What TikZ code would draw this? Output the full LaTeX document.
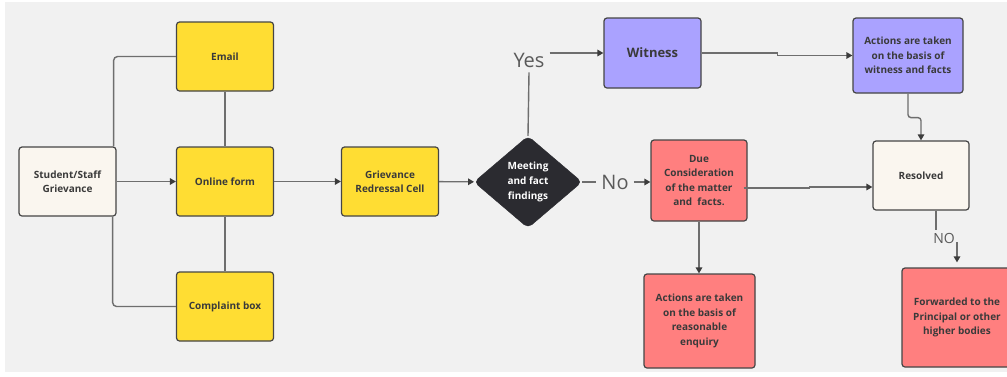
\documentclass[tikz,border=0pt]{standalone}
\usepackage{fontspec}
\setmainfont{Open Sans}
\usetikzlibrary{shapes.geometric,arrows.meta}
\definecolor{bggray}{HTML}{F1F1F1}
\definecolor{boxline}{HTML}{454545}
\definecolor{wirecol}{HTML}{6E6E6E}
\definecolor{tipcol}{HTML}{3C3C3C}
\definecolor{txtcol}{HTML}{3A3A3A}
\definecolor{yel}{HTML}{FFDD33}
\definecolor{lav}{HTML}{AAA2FF}
\definecolor{rose}{HTML}{FF7F7F}
\definecolor{cream}{HTML}{FAF6EF}
\definecolor{ink}{HTML}{2B2B30}
\definecolor{lblcol}{HTML}{5A5A5A}
\begin{document}
\begin{tikzpicture}[x=1pt,y=-1pt,
	box/.style={rectangle,rounded corners=3pt,draw=boxline,line width=1.2pt,text=txtcol,
		font=\bfseries\fontsize{10}{14.5}\selectfont,align=center,inner sep=2pt},
	decide/.style={diamond,rounded corners=5pt,draw=ink,fill=ink,text=white,inner sep=0pt,
		font=\bfseries\fontsize{10}{15}\selectfont,align=center},
	wire/.style={draw=wirecol,line width=1.4pt},
	arr/.style={wire,-{Triangle[length=6pt,width=6.5pt,color=tipcol]}},
	lbl/.style={text=lblcol,inner sep=5pt}]
			\useasboundingbox (0,0) rectangle (1007,376);
			\fill[white] (0,0) rectangle (1007,376);
			\fill[bggray] (5,2) rectangle (1007,372);
			
			\begin{scope}[every node/.style={box,minimum width=97pt,minimum height=69pt}]
			\node (S) at (67.5,181.5) [fill=cream] {Student/Staff\\Grievance};
			\node (E) at (225,56.5) [fill=yel] {Email};
			\node (O) at (225,181.5) [fill=yel] {Online form};
			\node (C) at (225,306.5) [fill=yel] {Complaint box};
			\node (G) at (390,181.5) [fill=yel] {Grievance\\Redressal Cell};
			\node (W) at (652.5,53) [fill=lav,minimum height=70pt,font=\bfseries\fontsize{13}{16}\selectfont] {Witness};
			\node (AW) at (908,55.5) [fill=lav,minimum width=110pt,minimum height=75pt] {Actions are taken\\on the basis of\\witness and facts};
			\node (D) at (699,180.5) [fill=rose,minimum width=96pt,minimum height=81pt] {Due\\Consideration\\of the matter\\and \ facts.};
			\node (R) at (921,175.5) [fill=cream,minimum width=96pt] {Resolved};
			\node (AR) at (699.5,321) [fill=rose,minimum width=111pt,minimum height=94pt] {Actions are taken\\on the basis of\\reasonable\\enquiry};
			\node (F) at (957,317.5) [fill=rose,minimum width=110pt,minimum height=99pt] {Forwarded to the\\Principal or other\\higher bodies};
			\end{scope}
			\node (M) at (528,182) [decide,minimum width=108pt,minimum height=92pt] {Meeting\\and fact\\findings};
			
			\node (Y) at (529,60) [lbl,font=\fontsize{20}{24}\selectfont] {Yes};
			\node (N) at (615,182) [lbl,font=\fontsize{20}{24}\selectfont] {No};
			\node (NO) at (944,238) [lbl,inner sep=3pt,font=\fontsize{14}{17}\selectfont] {NO};
			
			\path (S) edge[arr] (O);
			\path (E) edge[wire] (O);
			\path (O) edge[wire] (C);
			\path (O) edge[arr] (G);
			\path (G) edge[arr] (M);
			\draw[wire,rounded corners=4pt] ([xshift=-3pt]S.north east) |- (E.west);
			\draw[wire,rounded corners=4pt] ([xshift=-4pt]S.south east) |- (C.west);
			\path (M.north) edge[wire] (Y.south);
			\path (Y.east |- W.west) edge[arr] (W.west);
			\path (M.east) edge[wire] (N.west);
			\path (N.east) edge[arr] (N.east -| D.west);
			\draw[arr] (W.east) -- ++(76,0) |- (AW.west);
			\draw[arr,rounded corners=3pt] (AW.south) -- ++(0,24) -| (R.north);
			\draw[arr] ([xshift=-4pt,yshift=-7.5pt]D.east) -- ++(66,0) |- ([yshift=-11.5pt]R.west);
			\path (D.south) edge[arr] (D.south |- AR.north);
			\draw[wire] ([xshift=15pt]R.south) -- ([xshift=15pt]R.south |- NO.north);
			\draw[arr] (F.north |- NO.east) ++(0,4) -- ([yshift=5pt]F.north);
			\end{tikzpicture}
\end{document}
